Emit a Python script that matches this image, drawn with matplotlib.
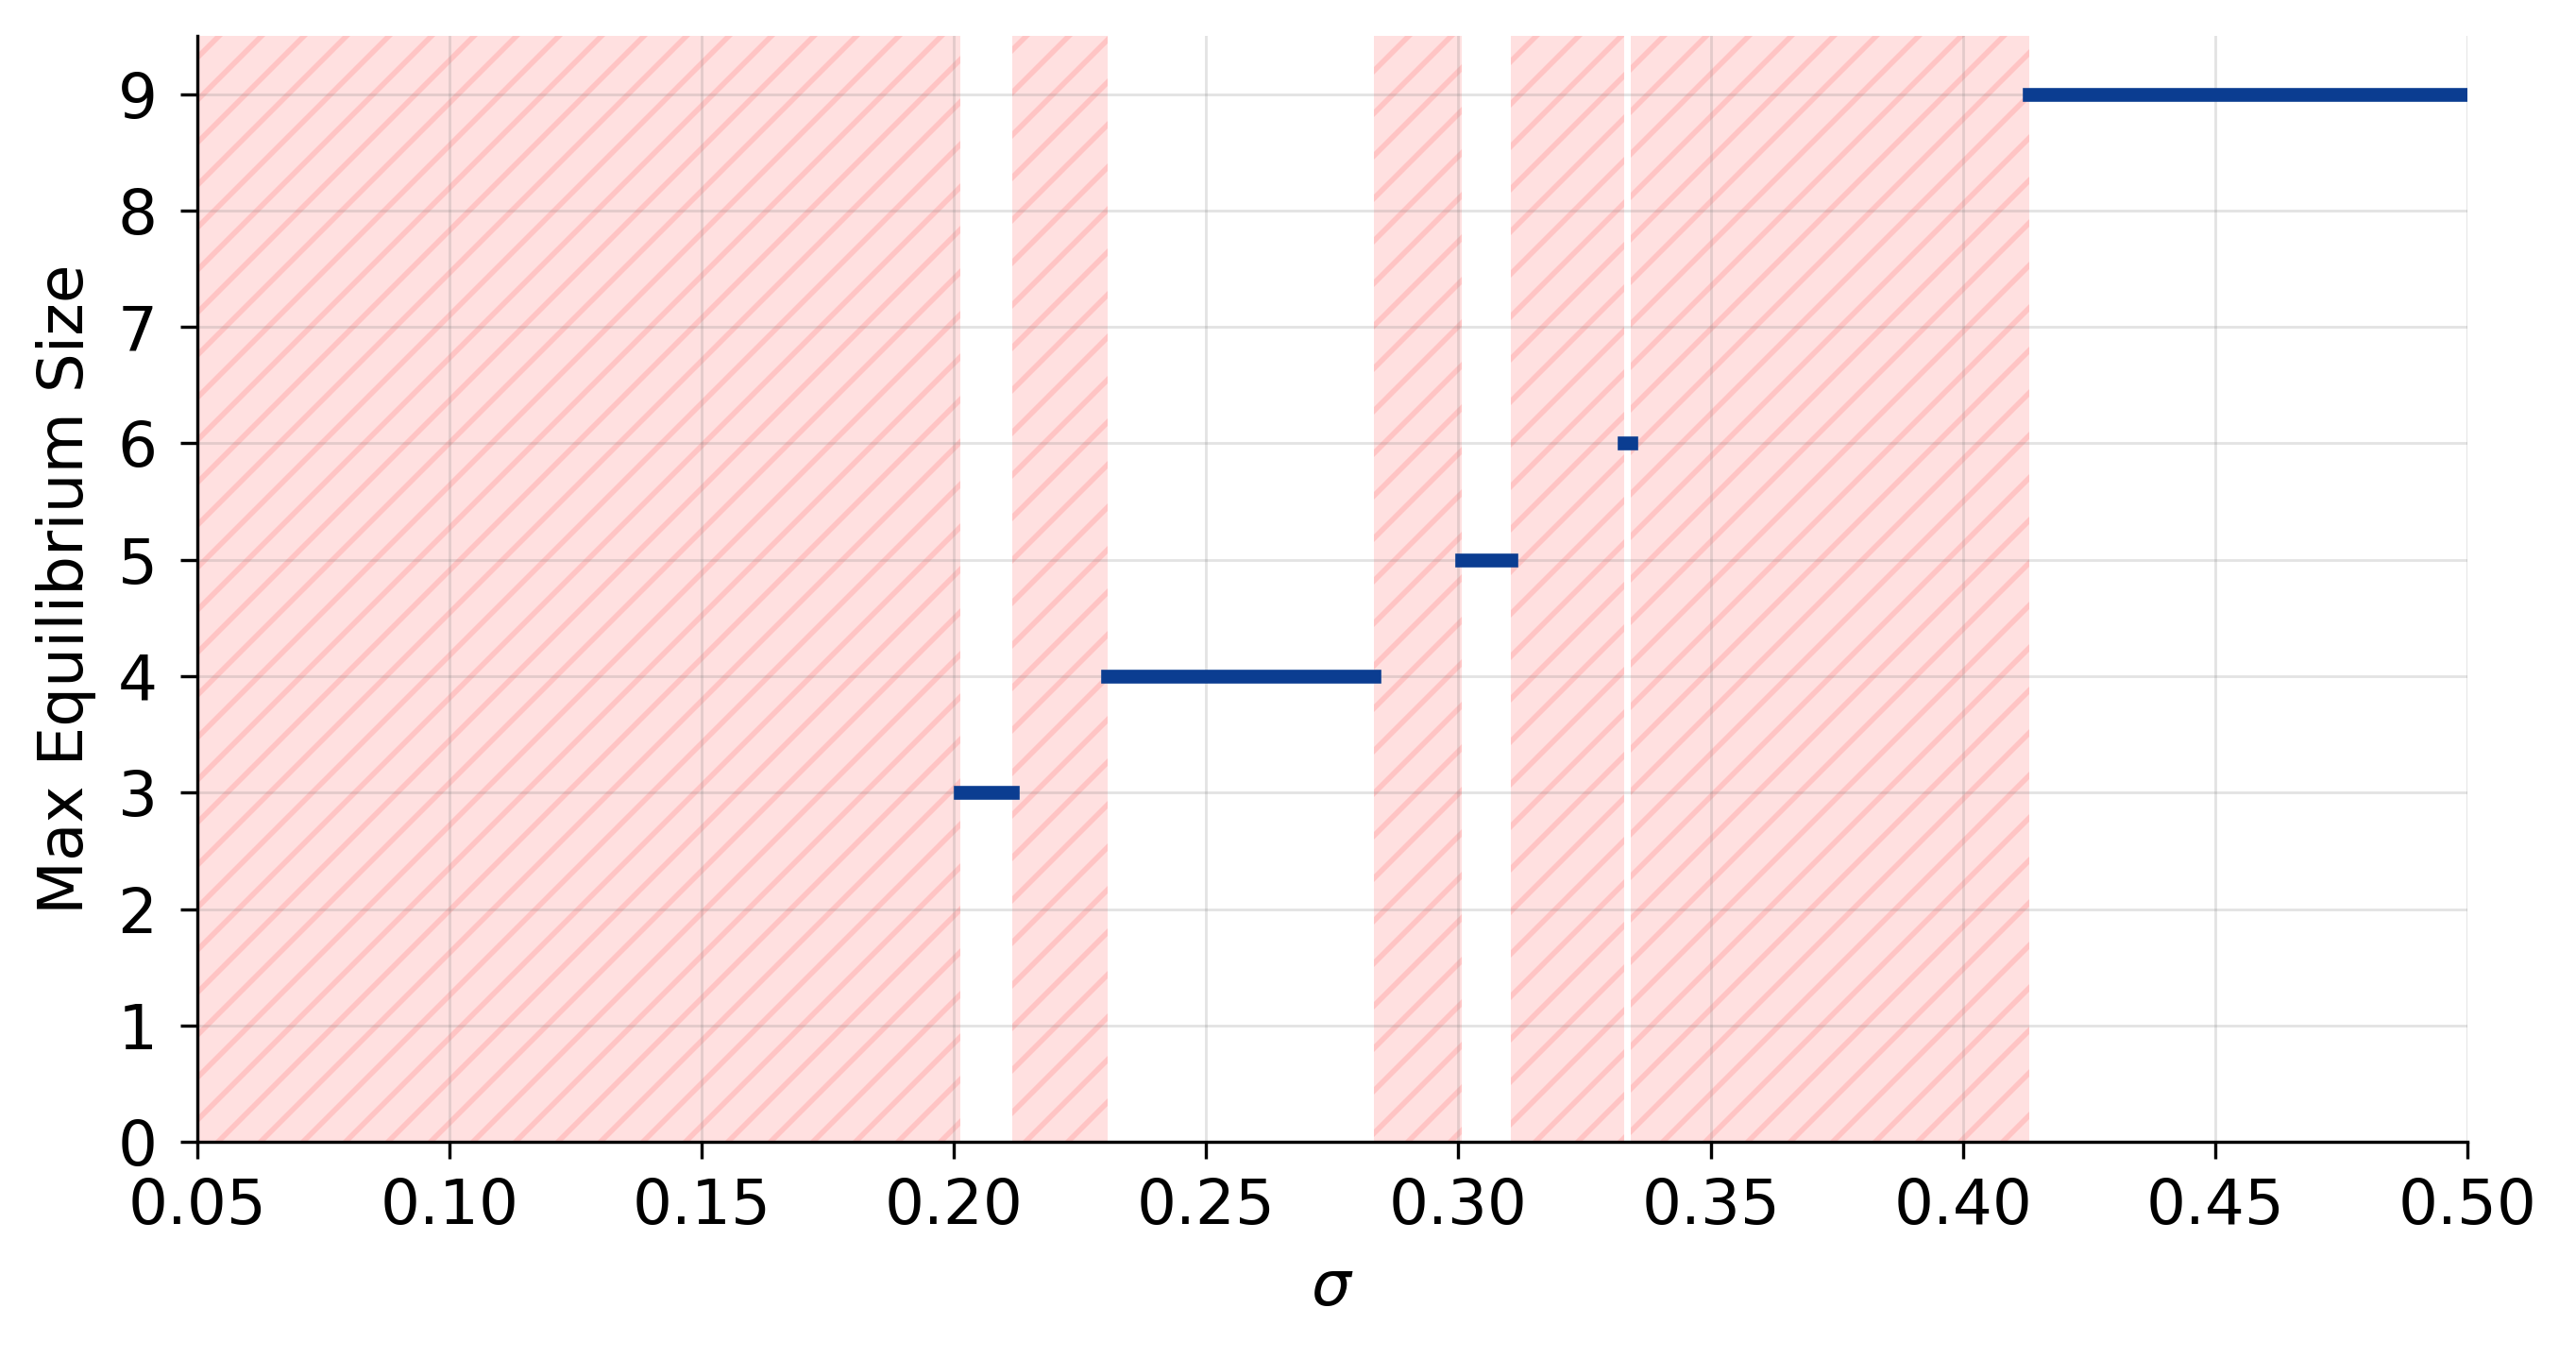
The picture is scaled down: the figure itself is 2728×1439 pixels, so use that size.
import matplotlib
matplotlib.use("Agg")
import matplotlib.pyplot as plt

# sigma intervals where an equilibrium exists, and its max size
eq_start = [0.2012, 0.2304, 0.3007, 0.3329, 0.4132]
eq_end = [0.2116, 0.2833, 0.3104, 0.3341, 0.5000]
eq_size = [3, 4, 5, 6, 9]

# shaded sigma ranges (no equilibrium)
shade_start = [0.05, 0.2116, 0.2833, 0.3104, 0.3341]
shade_end = [0.2012, 0.2304, 0.3007, 0.3329, 0.4132]

x_ticks = [0.05, 0.10, 0.15, 0.20, 0.25, 0.30, 0.35, 0.40, 0.45, 0.50]
y_ticks = list(range(10))

plt.rcParams['hatch.linewidth'] = 1.5
plt.rcParams['font.family'] = 'DejaVu Sans'

fig = plt.figure(figsize=(2728 / 270, 1439 / 270), dpi=270)
ax = fig.add_axes([0.0766, 0.1598, 0.9578 - 0.0766, 0.9736 - 0.1598])

for a, b in zip(shade_start, shade_end):
    ax.axvspan(a, b, facecolor='red', edgecolor='red', alpha=0.12,
               hatch='//', linewidth=0)

for a, b, k in zip(eq_start, eq_end, eq_size):
    ax.plot([a, b], [k, k], color='#0b3d91', linewidth=3.9, zorder=3)

ax.set_xlim(0.05, 0.50)
ax.set_ylim(0, 9.5)
ax.set_xticks(x_ticks)
ax.set_xticklabels([f'{t:.2f}' for t in x_ticks])
ax.set_yticks(y_ticks)
ax.grid(True, color='gray', alpha=0.22, linewidth=0.75)

ax.spines['top'].set_visible(False)
ax.spines['right'].set_visible(False)
for s in ['left', 'bottom']:
    ax.spines[s].set_linewidth(0.9)
ax.tick_params(axis='both', labelsize=17.6, length=4.8, width=0.9)
ax.tick_params(axis='y', pad=6.5)
ax.tick_params(axis='x', pad=5)

ax.set_xlabel(r'$\sigma$', fontsize=17.6, labelpad=6)
ax.set_ylabel('Max Equilibrium Size', fontsize=17.6, labelpad=6)

fig.savefig('out.png', dpi=270)
